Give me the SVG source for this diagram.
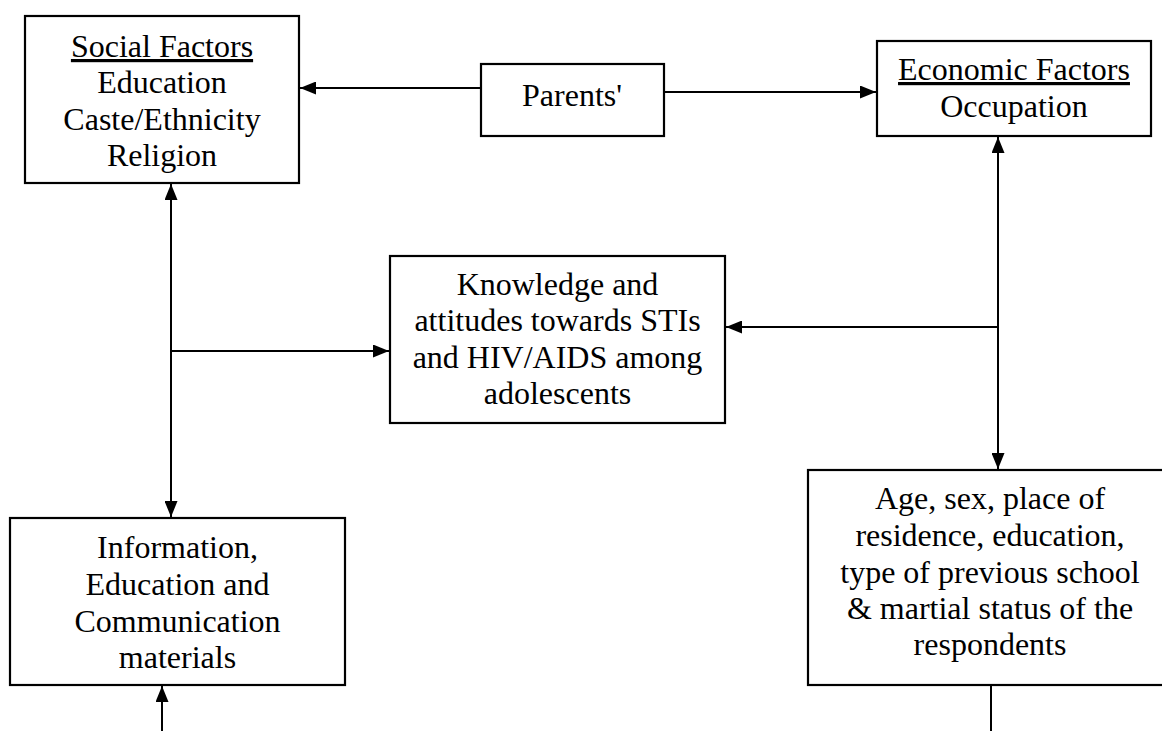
<svg xmlns="http://www.w3.org/2000/svg" width="1162" height="731" viewBox="0 0 1162 731">
<style>
.box{fill:#fff;stroke:#000;stroke-width:2.2}
.t{font-family:"Liberation Serif","Times New Roman",serif;font-size:32px;fill:#000;text-anchor:middle}
.u{text-decoration:underline}
.c{fill:none;stroke:#000;stroke-width:2}
</style>
<defs>
<marker id="ah" viewBox="0 0 16 13" refX="16" refY="6.5" markerWidth="16" markerHeight="13" markerUnits="userSpaceOnUse" orient="auto-start-reverse">
<path d="M0,0 L16,6.5 L0,13 Z" fill="#000"/>
</marker>
</defs>
<rect width="1162" height="731" fill="#fff"/>
<g id="connectors">
<line class="c" x1="481" y1="88" x2="300" y2="88" marker-end="url(#ah)"/>
<line class="c" x1="664" y1="92" x2="876" y2="92" marker-end="url(#ah)"/>
<line class="c" x1="171" y1="184" x2="171" y2="517" marker-start="url(#ah)" marker-end="url(#ah)"/>
<line class="c" x1="171" y1="351" x2="389" y2="351" marker-end="url(#ah)"/>
<line class="c" x1="998" y1="137" x2="998" y2="469" marker-start="url(#ah)" marker-end="url(#ah)"/>
<line class="c" x1="998" y1="327" x2="726" y2="327" marker-end="url(#ah)"/>
<line class="c" x1="162" y1="731" x2="162" y2="686" marker-end="url(#ah)"/>
<line class="c" x1="991" y1="685" x2="991" y2="731"/>
</g>
<g id="social">
<rect class="box" x="25" y="16" width="274" height="167"/>
<text class="t u" x="162" y="57">Social Factors</text>
<text class="t" x="162" y="93">Education</text>
<text class="t" x="162" y="130">Caste/Ethnicity</text>
<text class="t" x="162" y="166">Religion</text>
</g>
<g id="parents">
<rect class="box" x="481" y="64" width="183" height="72"/>
<text class="t" x="572" y="106">Parents'</text>
</g>
<g id="economic">
<rect class="box" x="877" y="41" width="274" height="95"/>
<text class="t u" x="1014" y="80">Economic Factors</text>
<text class="t" x="1014" y="117">Occupation</text>
</g>
<g id="knowledge">
<rect class="box" x="390" y="256" width="335" height="167"/>
<text class="t" x="557.5" y="295">Knowledge and</text>
<text class="t" x="557.5" y="331">attitudes towards STIs</text>
<text class="t" x="557.5" y="368">and HIV/AIDS among</text>
<text class="t" x="557.5" y="404">adolescents</text>
</g>
<g id="iec">
<rect class="box" x="10" y="518" width="335" height="167"/>
<text class="t" x="177.5" y="558">Information,</text>
<text class="t" x="177.5" y="595">Education and</text>
<text class="t" x="177.5" y="632">Communication</text>
<text class="t" x="177.5" y="668">materials</text>
</g>
<g id="demographics">
<rect class="box" x="808" y="470" width="366" height="215"/>
<text class="t" x="990" y="509">Age, sex, place of</text>
<text class="t" x="990" y="546">residence, education,</text>
<text class="t" x="990" y="583">type of previous school</text>
<text class="t" x="990" y="619">&amp; martial status of the</text>
<text class="t" x="990" y="655">respondents</text>
</g>
</svg>
